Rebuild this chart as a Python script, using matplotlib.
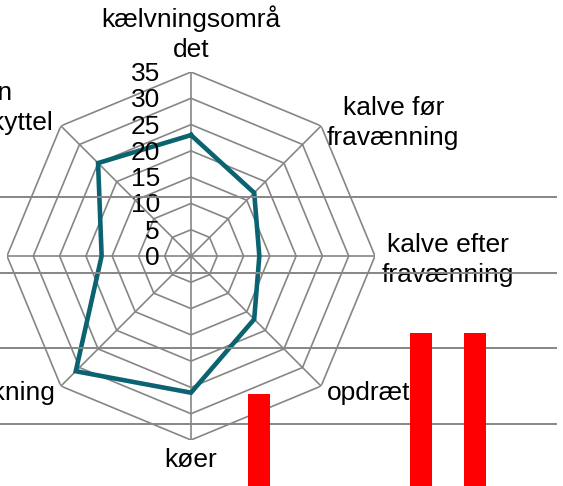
import numpy as np
import matplotlib
matplotlib.use("Agg")
import matplotlib.pyplot as plt

plt.rcParams['font.family'] = ['Liberation Sans', 'DejaVu Sans']

# radar data (clockwise from top)
kategorier = ["kælvningsområ\ndet", "kalve før\nfravænning", "kalve efter\nfravænning",
              "opdræt", "køer", "malkning", "sygeboks", "Gæsten\nsmittebeskyttel"]
vaerdier = [23, 17, 13, 17, 26, 31, 17, 25]
ringe = [0, 5, 10, 15, 20, 25, 30, 35]

# column chart lying underneath
soejle_pos = [0, 1, 2, 3, 4, 5, 6, 7, 8, 9]
soejle_vaerdi = [0, 0, 0, 0, 14, 0, 0, 22, 22, 0]
gitter = [10, 20, 30, 40]

W, H = 563, 486
fig = plt.figure(figsize=(W / 100, H / 100), dpi=100)

grå = "#868686"
teal = "#0b6270"

# radar - center (191,256), radius 184 px
ax = fig.add_axes([7 / W, 46 / H, 368 / W, 368 / H], polar=True)
ax.set_theta_zero_location("N")
ax.set_theta_direction(-1)
ax.set_ylim(0, 35)
ax.axis("off")

n = len(kategorier)
vinkler = np.linspace(0, 2 * np.pi, n, endpoint=False)
vinkler_luk = np.append(vinkler, vinkler[0])

for r in ringe[1:]:
    ax.plot(vinkler_luk, [r] * (n + 1), color=grå, lw=1.2, zorder=1)
for t in vinkler:
    ax.plot([t, t], [0, ringe[-1]], color=grå, lw=1.2, zorder=1)

ax.plot(vinkler_luk, vaerdier + [vaerdier[0]], color=teal, lw=3.3, zorder=3,
        solid_joinstyle="miter")

for r in ringe:
    ax.annotate(str(r), xy=(0, r), xytext=(-31, -2), textcoords="offset pixels",
                ha="right", va="center", fontsize=19)

# label placement per spoke
plac = [((0, 10), "center", "bottom"),
        ((6, 3), "left", "center"),
        ((7, -4), "left", "center"),
        ((6, -7), "left", "center"),
        ((0, -8), "center", "top"),
        ((-6, -7), "right", "center"),
        ((-7, -4), "right", "center"),
        ((-8, 18), "right", "center")]
for t, lab, (off, ha, va) in zip(vinkler, kategorier, plac):
    ax.annotate(lab, xy=(t, ringe[-1]), xytext=off, textcoords="offset pixels",
                ha=ha, va=va, multialignment="center", fontsize=19,
                linespacing=1.3, annotation_clip=False)

# overlay column chart
ax2 = fig.add_axes([0, 0, 557 / W, 1])
ax2.patch.set_alpha(0)
ax2.set_xlim(-0.796, 9.52)
ax2.set_ylim(1.85, 66.0)
for s in ax2.spines.values():
    s.set_visible(False)
ax2.set_yticks(gitter)
ax2.set_xticks([])
ax2.tick_params(left=False, labelleft=False)
ax2.grid(axis="y", color=grå, lw=1.4)
ax2.set_axisbelow(True)
ax2.bar(soejle_pos, soejle_vaerdi, width=0.41, color="#ff0000", lw=0)

fig.savefig("out.png", dpi=100)
